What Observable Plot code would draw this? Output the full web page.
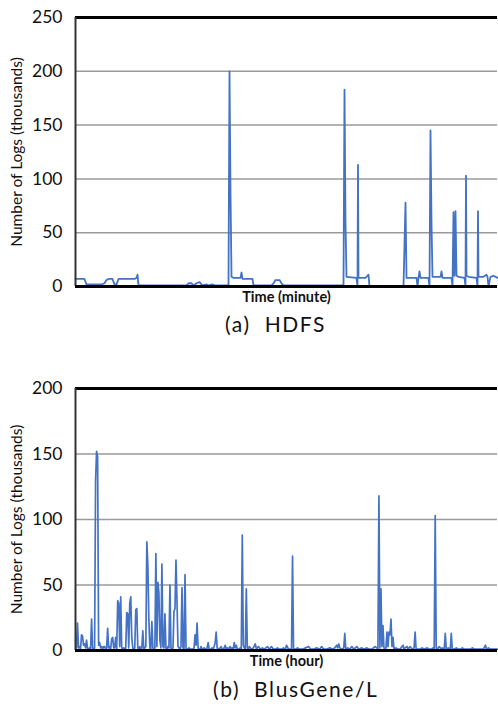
<!DOCTYPE html>
<html>
<head>
<meta charset="utf-8">
<script src="https://cdn.jsdelivr.net/npm/d3@7"></script>
<script src="https://cdn.jsdelivr.net/npm/@observablehq/plot@0.6"></script>
<style>
  body { margin: 0; background: #fff; font-family: Lato, "Open Sans", sans-serif; }
  #page { position: relative; width: 498px; height: 706px; }
  .chart { position: absolute; left: 0; }
  .caption { position: absolute; font-size: 21px; letter-spacing: 1.6px; color: #111; white-space: pre; }
</style>
</head>
<body>
<div id="page">
  <div id="c1" class="chart" style="top:0"></div>
  <div class="caption" style="top:311px;left:225px">(a)  HDFS</div>
  <div id="c2" class="chart" style="top:370px"></div>
  <div class="caption" style="top:676px;left:213px">(b)  BlusGene/L</div>
</div>
<script>
// ---- Data (values in thousands of logs) ----
const yTitle = "Number of Logs (thousands)";

// HDFS: [minute, logs]
const hdfsTitle = "Time (minute)";
const hdfsTicks = [0, 50, 100, 150, 200, 250];
const hdfsSeries = [
  [0,7],[9,7],[11,2],[26,2],[29,3],[31,6],[33,7],[37,7],[39,2],[41,2],[43,7],[59,7],[61,8],[62,11],[63,1],
  [111,1],[113,3],[116,3],[118,1],[121,3],[124,4],[127,1],[131,2],[133,1],[137,2],[139,1],[153,1],
  [154,200],[155,88],[156,9],[158,8],[165,8],[166,13],[167,7],[177,7],[178,1],
  [196,1],[198,3],[200,6],[204,6],[206,3],[208,1],[268,1],
  [269,183],[270,60],[271,9],[281,8],[282,0],[282.5,113],[283,8],[290,8],[292,10],[293,11],[294,0],[328,0],
  [330,78],[331,8],[341,8],[342,0],[343,8],[344,14],[345,8],[353,8],[354,0],[355,145],[356,60],[357,9],
  [358,9],[362,9],[365,9],[366,14],[367,8],[376,8],[377,0],[378,69],[379,10],[380,70],[381,10],[383,9],
  [389,8],[390,0],[390.5,103],[391,10],[393,9],[401,8],[402,0],[402.5,70],[403,9],[408,9],[411,11],
  [412,9],[413,0],[415,9],[418,10],[422,8]
];

// BlueGene/L: [hour, logs]
const bglTitle = "Time (hour)";
const bglTicks = [0, 50, 100, 150, 200];
const bglSeries = [
  [0,8],[1,2],[2,21],[3,2],[4,3],[5,1],[6,12],[7,11],[8,4],[9,5],[10,2],[11,8],[12,1],[13,1],[14,2],[15,1],
  [16,24],[17,2],[18,1],[19,2],[20,130],[21,152],[22,148],[23,4],[24,6],[25,2],[26,3],[27,1],[28,3],[29,3],
  [30,1],[31,2],[32,17],[33,2],[34,3],[35,1],[36,9],[37,10],[38,2],[39,2],[40,10],[41,1],[42,38],[43,36],
  [44,3],[45,41],[46,2],[47,1],[48,2],[49,1],[50,2],[51,29],[52,28],[53,2],[54,36],[55,41],[56,10],[57,2],
  [58,1],[59,2],[60,31],[61,32],[62,2],[63,1],[64,3],[65,1],[66,2],[67,15],[68,1],[69,2],[70,3],[71,83],
  [72,65],[73,24],[74,2],[75,1],[76,22],[77,2],[78,1],[79,2],[80,74],[81,3],[82,52],[83,44],[84,8],[85,2],
  [86,66],[87,3],[88,2],[89,28],[90,2],[91,1],[92,3],[93,2],[94,50],[95,2],[96,1],[97,2],[98,30],[99,32],
  [100,69],[101,38],[102,3],[103,2],[104,1],[105,3],[106,48],[107,2],[108,1],[109,58],[110,2],[111,1],
  [112,1],[113,2],[114,1],[115,1],[116,1],[117,1],[118,2],[119,12],[120,4],[121,21],[122,2],[123,1],
  [124,1],[125,3],[126,1],[127,1],[128,2],[129,1],[130,1],[131,2],[132,6],[133,1],[134,1],[135,1],
  [136,2],[137,1],[138,3],[139,6],[140,14],[141,2],[142,1],[143,1],[144,2],[145,3],[146,1],[147,1],
  [148,2],[149,4],[150,1],[151,2],[152,1],[153,2],[154,3],[155,1],[156,2],[157,1],[158,6],[159,2],
  [160,4],[161,1],[162,1],[163,1],[164,2],[165,1],[166,88],[167,4],[168,2],[169,1],[170,47],[171,2],
  [172,1],[173,3],[175,1],[177,2],[179,5],[180,1],[182,3],[184,1],[186,2],[188,1],[191,3],[193,1],
  [195,3],[197,1],[199,1],[201,2],[203,1],[205,1],[207,2],[209,1],[210,4],[212,1],[214,1],[215,1],
  [216,72],[217,1],[219,1],[221,2],[223,1],[226,1],[229,2],[232,3],[234,1],[237,1],[240,2],[243,1],
  [245,3],[247,1],[250,1],[253,2],[256,1],[258,2],[260,4],[261,2],[262,5],[263,2],[265,1],[267,2],
  [268,13],[269,1],[271,2],[273,1],[275,3],[277,1],[280,3],[282,1],[285,2],[287,1],[290,2],[292,1],
  [295,1],[298,3],[300,2],[301,1],[302,118],[303,2],[304,47],[305,3],[306,19],[307,2],[308,1],[309,2],
  [310,14],[311,3],[312,14],[313,12],[314,24],[315,3],[316,10],[317,1],[319,2],[321,1],[323,1],[324,2],
  [326,4],[327,1],[328,2],[330,3],[331,1],[333,3],[335,1],[337,2],[338,14],[339,1],[341,1],[343,1],
  [345,2],[347,1],[350,2],[352,1],[354,1],[356,2],[357,1],[358,103],[359,2],[360,1],[362,3],[364,1],
  [365,2],[367,1],[368,13],[369,1],[371,2],[373,1],[374,13],[375,1],[377,1],[379,2],[381,1],[383,1],
  [385,2],[387,1],[390,1],[393,1],[395,2],[397,1],[400,1],[403,1],[406,1],[408,4],[409,1],[411,2],
  [413,1],[416,1],[418,1],[420,1]
];

const blue = "#4472C4";

function chart({series, xDomain, yDomain, ticks, xTitle, height, marginTop, marginBottom, strokeWidth}) {
  const data = series.map(([t, v]) => ({t, v}));
  return Plot.plot({
    width: 498,
    height,
    marginLeft: 75,
    marginRight: 1,
    marginTop,
    marginBottom,
    style: {fontFamily: "Lato, 'Open Sans', sans-serif", color: "#111", background: "#fff"},
    x: {domain: xDomain, axis: null},
    y: {domain: yDomain},
    marks: [
      Plot.ruleY(ticks.filter(d => d > 0 && d < yDomain[1]), {stroke: "#9a9a9a", strokeWidth: 1.5}),
      Plot.line(data, {x: "t", y: "v", stroke: blue, strokeWidth, strokeLinejoin: "round"}),
      Plot.ruleY([yDomain[1]], {stroke: "#000", strokeWidth: 3}),
      Plot.ruleX([xDomain[0]], {stroke: "#333", strokeWidth: 2}),
      Plot.ruleY([0], {stroke: "#000", strokeWidth: 3}),
      Plot.axisY({ticks, tickSize: 0, tickPadding: 13, fontSize: 17.5, label: null}),
      Plot.text([xTitle], {frameAnchor: "bottom", dy: 5, lineAnchor: "top", fontSize: 14.5, fontWeight: 700, fill: "#111", text: d => d}),
      Plot.text([yTitle], {frameAnchor: "left", dx: -58, rotate: -90, textAnchor: "middle", fontSize: 15.5, fill: "#111", text: d => d})
    ]
  });
}

document.getElementById("c1").append(chart({
  series: hdfsSeries, xDomain: [0, 422], yDomain: [0, 250], ticks: hdfsTicks,
  xTitle: hdfsTitle, height: 310, marginTop: 17, marginBottom: 24, strokeWidth: 1.8
}));
document.getElementById("c2").append(chart({
  series: bglSeries, xDomain: [0, 420], yDomain: [0, 200], ticks: bglTicks,
  xTitle: bglTitle, height: 300, marginTop: 18, marginBottom: 20, strokeWidth: 1.7
}));
</script>
</body>
</html>
